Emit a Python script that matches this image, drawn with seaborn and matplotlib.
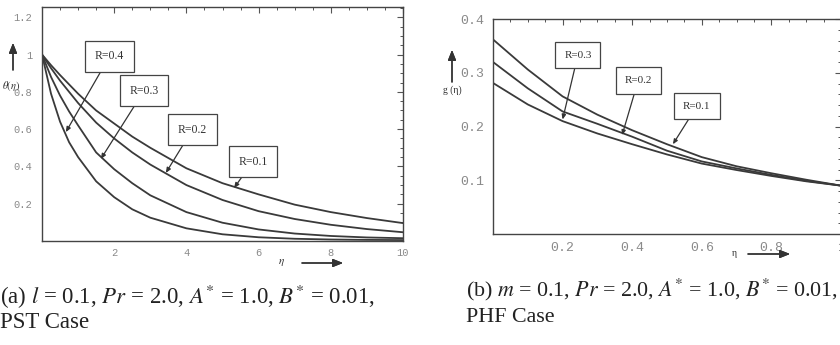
import numpy as np
import pandas as pd
import matplotlib
matplotlib.use("Agg")
import matplotlib.pyplot as plt
from matplotlib.ticker import MultipleLocator, FixedLocator, FuncFormatter
import seaborn as sns

# --- data ---
eta_a = [0, 0.25, 0.5, 0.75, 1, 1.5, 2, 2.5, 3, 4, 5, 6, 7, 8, 9, 10]
theta_R01 = [1.00, 0.943, 0.89, 0.84, 0.79, 0.70, 0.63, 0.56, 0.50, 0.39, 0.31, 0.25, 0.195, 0.155, 0.123, 0.096]
theta_R02 = [1.00, 0.927, 0.86, 0.80, 0.74, 0.635, 0.55, 0.475, 0.41, 0.30, 0.22, 0.16, 0.118, 0.087, 0.064, 0.047]
theta_R03 = [1.00, 0.88, 0.78, 0.695, 0.62, 0.475, 0.385, 0.31, 0.245, 0.155, 0.098, 0.062, 0.040, 0.027, 0.019, 0.015]
theta_R04 = [1.00, 0.79, 0.64, 0.53, 0.45, 0.32, 0.235, 0.17, 0.125, 0.068, 0.036, 0.020, 0.012, 0.008, 0.006, 0.005]

eta_b = [0, 0.1, 0.2, 0.3, 0.4, 0.5, 0.6, 0.7, 0.8, 0.9, 1.0]
g_R01 = [0.362, 0.306, 0.256, 0.222, 0.193, 0.167, 0.143, 0.126, 0.113, 0.101, 0.090]
g_R02 = [0.320, 0.271, 0.228, 0.205, 0.181, 0.155, 0.135, 0.122, 0.110, 0.099, 0.090]
g_R03 = [0.281, 0.241, 0.210, 0.187, 0.167, 0.148, 0.131, 0.119, 0.108, 0.098, 0.090]

# labels: (text, box centre, arrow tip)
labels_a = [("R=0.4", (1.87, 0.99), (0.66, 0.584)),
            ("R=0.3", (2.83, 0.807), (1.63, 0.44)),
            ("R=0.2", (4.17, 0.598), (3.43, 0.365)),
            ("R=0.1", (5.84, 0.426), (5.32, 0.284))]
labels_b = [("R=0.3", (0.244, 0.333), (0.200, 0.213)),
            ("R=0.2", (0.417, 0.285), (0.371, 0.184)),
            ("R=0.1", (0.586, 0.238), (0.517, 0.167))]

df_a = pd.concat([pd.DataFrame({"eta": eta_a, "val": v, "R": r})
                  for r, v in [("0.1", theta_R01), ("0.2", theta_R02),
                               ("0.3", theta_R03), ("0.4", theta_R04)]])
df_b = pd.concat([pd.DataFrame({"eta": eta_b, "val": v, "R": r})
                  for r, v in [("0.1", g_R01), ("0.2", g_R02), ("0.3", g_R03)]])

sns.set_theme(style="white")
plt.rcParams["font.family"] = ["Liberation Serif", "DejaVu Serif"]
plt.rcParams["mathtext.fontset"] = "stix"

W, H = 840, 345
fig = plt.figure(figsize=(W / 100, H / 100), dpi=100)

def fx(px):
    return px / W

def fy(py):
    return 1 - py / H

LINE = "#3a3a3a"
GRAY = "#8a8a8a"

ax1 = fig.add_axes([fx(42), fy(241), fx(403) - fx(42), fy(7) - fy(241)])
ax2 = fig.add_axes([fx(493), fy(234), fx(841) - fx(493), fy(19) - fy(234)])

for ax, df in [(ax1, df_a), (ax2, df_b)]:
    sns.lineplot(data=df, x="eta", y="val", units="R", estimator=None,
                 color=LINE, lw=1.3, ax=ax, legend=False)
    ax.set_xlabel("")
    ax.set_ylabel("")
    for s in ax.spines.values():
        s.set_color("#444444")
        s.set_linewidth(1.0)
    ax.tick_params(which="both", direction="in", top=True, right=True,
                   color="#555555", labelcolor=GRAY)
    ax.tick_params(which="major", length=4, width=0.8)
    ax.tick_params(which="minor", length=2.5, width=0.7)

fmt = FuncFormatter(lambda v, p: f"{v:g}")

ax1.set_xlim(0, 10)
ax1.set_ylim(0, 1.255)
ax1.xaxis.set_major_locator(FixedLocator([2, 4, 6, 8, 10]))
ax1.yaxis.set_major_locator(FixedLocator([0.2, 0.4, 0.6, 0.8, 1.0, 1.2]))
ax1.xaxis.set_minor_locator(MultipleLocator(0.5))
ax1.yaxis.set_minor_locator(MultipleLocator(0.05))
ax1.xaxis.set_major_formatter(fmt)
ax1.yaxis.set_major_formatter(fmt)
ax1.tick_params(axis="both", which="major", labelsize=7.5)
ax1.tick_params(axis="x", which="major", pad=5)
ax1.tick_params(axis="y", which="major", pad=7)
for t in ax1.get_xticklabels() + ax1.get_yticklabels():
    t.set_family(["Liberation Mono", "DejaVu Sans Mono"])

ax2.set_xlim(0, 1)
ax2.set_ylim(0, 0.4)
ax2.xaxis.set_major_locator(FixedLocator([0.2, 0.4, 0.6, 0.8, 1.0]))
ax2.yaxis.set_major_locator(FixedLocator([0.1, 0.2, 0.3, 0.4]))
ax2.xaxis.set_minor_locator(MultipleLocator(0.05))
ax2.yaxis.set_minor_locator(MultipleLocator(0.02))
ax2.xaxis.set_major_formatter(fmt)
ax2.yaxis.set_major_formatter(fmt)
ax2.tick_params(axis="both", which="major", labelsize=9.5, pad=6)
for t in ax2.get_xticklabels() + ax2.get_yticklabels():
    t.set_family(["Liberation Mono", "DejaVu Sans Mono"])

box = dict(boxstyle="square,pad=0.8", fc="white", ec="#444444", lw=0.9)
arrow = dict(arrowstyle="-|>,head_length=0.35,head_width=0.15", color="#333333",
             lw=0.9, shrinkA=0, shrinkB=0)
for txt, c, tip in labels_a:
    ax1.annotate(txt, xy=tip, xytext=c, ha="center", va="center",
                 fontsize=8.5, color="#333333", bbox=box, arrowprops=arrow)
for txt, c, tip in labels_b:
    ax2.annotate(txt, xy=tip, xytext=c, ha="center", va="center",
                 fontsize=8, color="#333333", bbox=box, arrowprops=arrow)

# axis names with arrows, drawn on the figure
ax_arrow = dict(arrowstyle="-|>,head_length=0.5,head_width=0.2", color="#333333",
                lw=1.0, shrinkA=0, shrinkB=0)
fig.text(fx(11), fy(86), r"$\theta(\eta)$", fontsize=7.5, ha="center", va="center",
         color="#333333")
fig.add_artist(plt.annotate("", xy=(fx(13), fy(43)), xytext=(fx(13), fy(70)),
                            xycoords="figure fraction", arrowprops=ax_arrow))
fig.text(fx(281), fy(263), r"$\eta$", fontsize=8, ha="center", va="center",
         color="#333333")
fig.add_artist(plt.annotate("", xy=(fx(343), fy(263)), xytext=(fx(302), fy(263)),
                            xycoords="figure fraction", arrowprops=ax_arrow))

fig.text(fx(452), fy(90), "g (\u03b7)", fontsize=7, ha="center", va="center",
         color="#333333")
fig.add_artist(plt.annotate("", xy=(fx(452), fy(50)), xytext=(fx(452), fy(82)),
                            xycoords="figure fraction", arrowprops=ax_arrow))
fig.text(fx(734), fy(254), "\u03b7", fontsize=7, ha="center", va="center",
         color="#333333")
fig.add_artist(plt.annotate("", xy=(fx(790), fy(254)), xytext=(fx(748), fy(254)),
                            xycoords="figure fraction", arrowprops=ax_arrow))

# captions
cap_a = dict(fontsize=16.5, ha="left", va="center", color="#222222")
cap_b = dict(fontsize=15.8, ha="left", va="center", color="#222222")
fig.text(fx(0), fy(297), r"(a) $l$ = 0.1, $Pr$ = 2.0, $A^{*}$ = 1.0, $B^{*}$ = 0.01,", **cap_a)
fig.text(fx(0), fy(323), "PST Case", **cap_a)
fig.text(fx(466), fy(290), r"(b) $m$ = 0.1, $Pr$ = 2.0, $A^{*}$ = 1.0, $B^{*}$ = 0.01,", **cap_b)
fig.text(fx(466), fy(318), "PHF Case", **cap_b)

fig.savefig("out.png", dpi=100)
